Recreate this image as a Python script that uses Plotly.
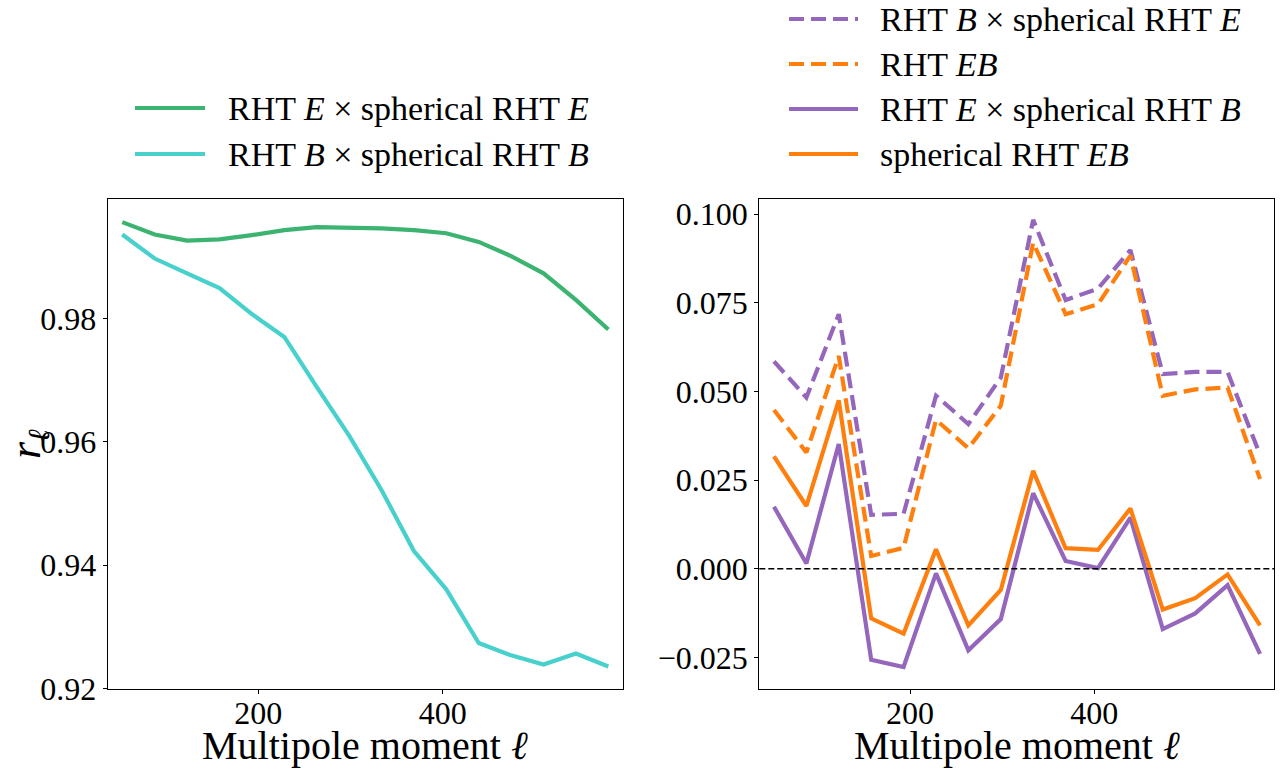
import plotly.graph_objects as go

# Multipole bin centres
ell = [52.4, 87.6, 122.7, 157.9, 193.0, 228.2, 263.3, 298.5,
       333.6, 368.8, 403.9, 439.1, 474.2, 509.4, 544.5, 579.7]

# Left panel: correlation coefficients
r_EE = [0.9956, 0.9936, 0.9926, 0.9928, 0.9935, 0.9943, 0.9948, 0.9947,
        0.9946, 0.9943, 0.9938, 0.9924, 0.9901, 0.9873, 0.9830, 0.9782]
r_BB = [0.9936, 0.9897, 0.9873, 0.9849, 0.9807, 0.9770, 0.9689, 0.9610,
        0.9522, 0.9423, 0.9361, 0.9274, 0.9254, 0.9239, 0.9257, 0.9236]

# Right panel: cross terms
r_BxE = [0.0585, 0.0483, 0.0718, 0.0152, 0.0155, 0.0488, 0.0408, 0.0539,
         0.0984, 0.0758, 0.0790, 0.0899, 0.0549, 0.0555, 0.0555, 0.0322]
r_EB_rht = [0.0448, 0.0328, 0.0600, 0.0036, 0.0059, 0.0420, 0.0340, 0.0460,
            0.0920, 0.0718, 0.0746, 0.0883, 0.0488, 0.0506, 0.0511, 0.0253]
r_ExB = [0.0175, 0.0015, 0.0352, -0.0257, -0.0277, -0.0013, -0.0230, -0.0142,
         0.0213, 0.0022, 0.0002, 0.0144, -0.0170, -0.0126, -0.0046, -0.0240]
r_EB_sph = [0.0317, 0.0177, 0.0475, -0.0140, -0.0183, 0.0055, -0.0160, -0.0060,
            0.0276, 0.0058, 0.0053, 0.0170, -0.0115, -0.0083, -0.0016, -0.0160]

x_ticks = [200, 400]
left_ticks = [0.92, 0.94, 0.96, 0.98]
right_ticks = [-0.025, 0.0, 0.025, 0.05, 0.075, 0.1]

GREEN = "#3cb371"
CYAN = "#48d1cc"
PURPLE = "#9467bd"
ORANGE = "#ff7f0e"
FONT = "Liberation Serif"
LW = 4.2
DASH = "15px,7px"

W, H = 1285, 769
# axes boxes in pixels
LX0, LX1 = 107.7, 623.0
RX0, RX1 = 759.3, 1274.3
Y0, Y1 = 199.3, 689.3

fig = go.Figure()

left_series = [
    (r_EE, GREEN, "solid", "RHT <i>E</i> × spherical RHT <i>E</i>"),
    (r_BB, CYAN, "solid", "RHT <i>B</i> × spherical RHT <i>B</i>"),
]
right_series = [
    (r_BxE, PURPLE, DASH, "RHT <i>B</i> × spherical RHT <i>E</i>"),
    (r_EB_rht, ORANGE, DASH, "RHT <i>EB</i>"),
    (r_ExB, PURPLE, "solid", "RHT <i>E</i> × spherical RHT <i>B</i>"),
    (r_EB_sph, ORANGE, "solid", "spherical RHT <i>EB</i>"),
]

for ys, col, dash, name in left_series:
    fig.add_trace(go.Scatter(x=ell, y=ys, mode="lines", name=name,
                             line=dict(color=col, width=LW, dash=dash),
                             xaxis="x", yaxis="y", showlegend=False))
for ys, col, dash, name in right_series:
    fig.add_trace(go.Scatter(x=ell, y=ys, mode="lines", name=name,
                             line=dict(color=col, width=LW, dash=dash),
                             xaxis="x2", yaxis="y2", showlegend=False))

# zero reference line on the right panel
fig.add_shape(type="line", xref="x2 domain", yref="y2", x0=0, x1=1, y0=0, y1=0,
              line=dict(color="black", width=1.3, dash="6px,3px"))


def px(xp):
    return xp / W


def py(yp):
    return 1 - yp / H


axis_common = dict(showline=True, linecolor="black", linewidth=1.2, mirror=True,
                   ticks="outside", ticklen=4, tickcolor="black", tickwidth=1,
                   showgrid=False, zeroline=False, automargin=False,
                   tickfont=dict(family=FONT, size=32, color="black"))

fig.update_layout(
    width=W, height=H,
    margin=dict(l=0, r=0, t=0, b=0, autoexpand=False),
    paper_bgcolor="white", plot_bgcolor="white",
    xaxis=dict(domain=[px(LX0), px(LX1)], range=[36.6, 595.6], tickvals=x_ticks,
               anchor="y", ticklabelstandoff=-9, **axis_common),
    yaxis=dict(domain=[py(Y1), py(Y0)], range=[0.9199, 0.9993], tickvals=left_ticks,
               tickformat=".2f", anchor="x", **axis_common),
    xaxis2=dict(domain=[px(RX0), px(RX1)], range=[36.5, 595.2], tickvals=x_ticks,
                anchor="y2", ticklabelstandoff=-9, **axis_common),
    yaxis2=dict(domain=[py(Y1), py(Y0)], range=[-0.0340, 0.1042], tickvals=right_ticks,
                tickformat=".3f", anchor="x2", **axis_common),
    showlegend=False,
)

# axis titles
for xc in [(LX0 + LX1) / 2, (RX0 + RX1) / 2]:
    fig.add_annotation(x=px(xc), y=py(745), xref="paper", yref="paper",
                       text="Multipole moment <i>ℓ</i>", showarrow=False,
                       font=dict(family=FONT, size=40, color="black"),
                       xanchor="center", yanchor="middle")
fig.add_annotation(x=px(29), y=py(444), xref="paper", yref="paper",
                   text="<i>r</i><sub><i>ℓ</i></sub>", showarrow=False, textangle=-90,
                   font=dict(family=FONT, size=44, color="black"),
                   xanchor="center", yanchor="middle")


# legends drawn as line samples plus labels
def legend_block(series, x_line0, x_line1, x_text, rows):
    for (ys, col, dash, name), yr in zip(series, rows):
        fig.add_shape(type="line", xref="paper", yref="paper",
                      x0=px(x_line0), x1=px(x_line1), y0=py(yr), y1=py(yr),
                      line=dict(color=col, width=LW, dash=dash))
        fig.add_annotation(x=px(x_text), y=py(yr), xref="paper", yref="paper",
                           text=name, showarrow=False, xanchor="left", yanchor="middle",
                           font=dict(family=FONT, size=34, color="black"))


legend_block(left_series, 135, 205, 226, [108, 154])
legend_block(right_series, 789, 858, 878, [19, 64, 109, 154])

fig.write_html("out.html")
